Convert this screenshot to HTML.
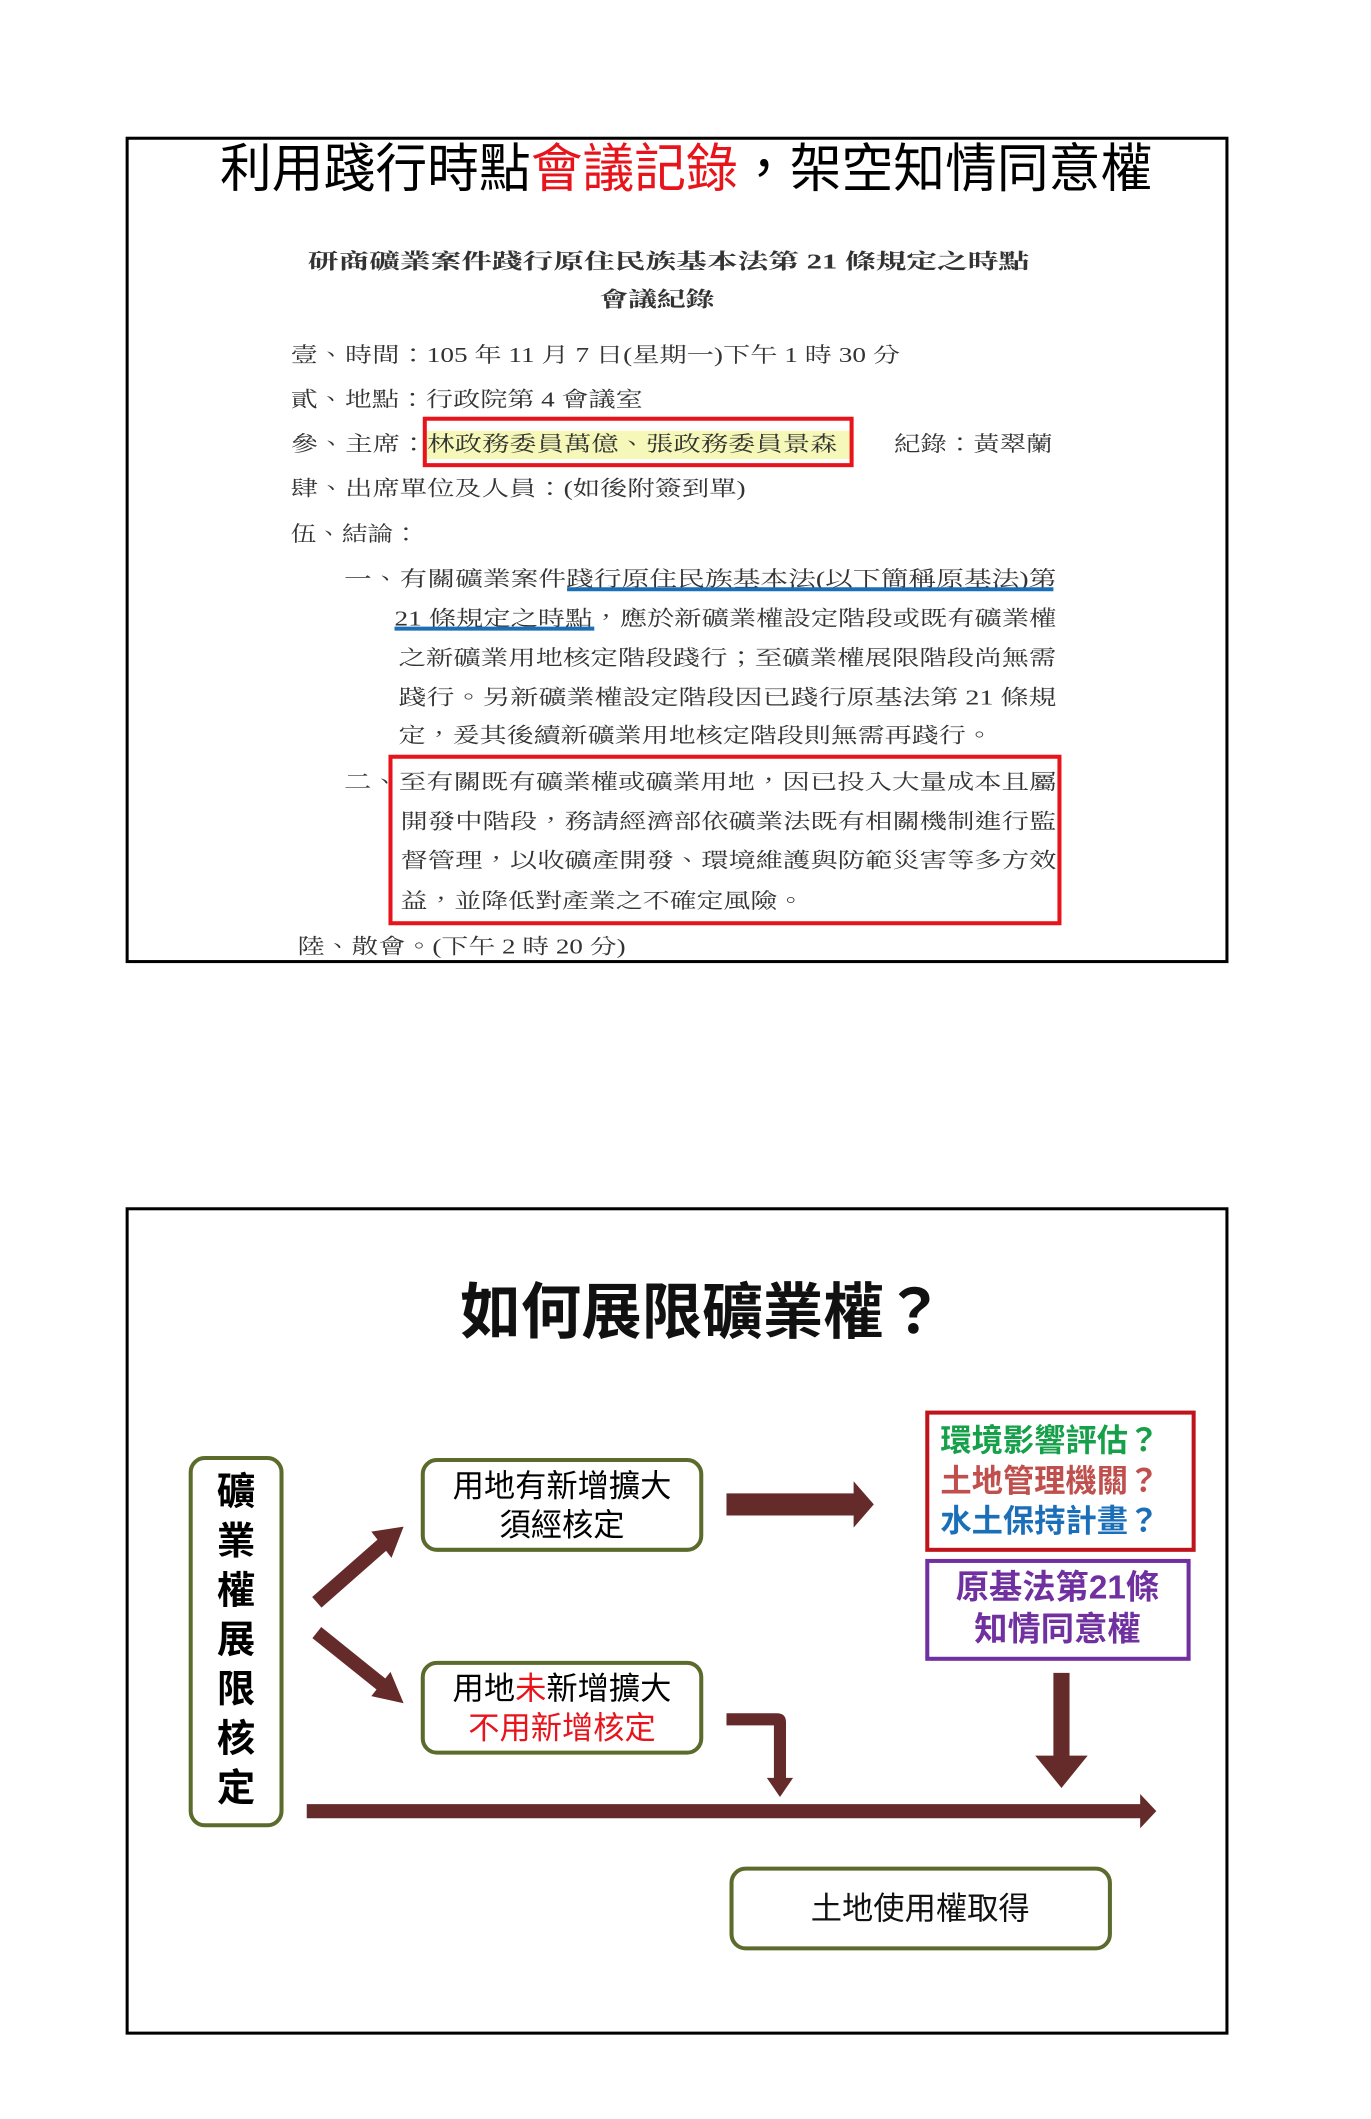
<!DOCTYPE html>
<html><head><meta charset="utf-8">
<style>
html,body{margin:0;padding:0;background:#fff;}
svg{display:block;}
.doc{font-family:"Liberation Serif","Noto Serif CJK TC","Noto Serif CJK SC",serif;font-size:21px;fill:#333;}
.sans{font-family:"Liberation Sans","Noto Sans CJK TC",sans-serif;}
</style></head>
<body>
<svg width="1371" height="2119" viewBox="0 0 1371 2119" xmlns="http://www.w3.org/2000/svg">
<rect x="0" y="0" width="1371" height="2119" fill="#fff"/>
<g transform="scale(1.009)">
<!-- Top panel -->
<rect x="126" y="137" width="1090" height="816" fill="none" stroke="#000" stroke-width="3"/>
<text class="sans" x="218" y="185" font-size="52" textLength="924" lengthAdjust="spacingAndGlyphs" fill="#000">利用踐行時點<tspan fill="#e8141c">會議記錄</tspan>，架空知情同意權</text>

<rect x="421" y="427" width="422" height="28" fill="#f3f6a8" opacity="0.8"/>
<g class="doc">
<text x="305" y="266" font-weight="bold" textLength="715" lengthAdjust="spacingAndGlyphs">研商礦業案件踐行原住民族基本法第 21 條規定之時點</text>
<text x="594" y="304" font-weight="bold" textLength="114" lengthAdjust="spacingAndGlyphs">會議紀錄</text>
<text x="288" y="359" textLength="604" lengthAdjust="spacingAndGlyphs">壹、時間：105 年 11 月 7 日(星期一)下午 1 時 30 分</text>
<text x="288" y="403" textLength="349" lengthAdjust="spacingAndGlyphs">貳、地點：行政院第 4 會議室</text>
<text x="288" y="447" textLength="542" lengthAdjust="spacingAndGlyphs">參、主席：林政務委員萬億、張政務委員景森</text>
<text x="886" y="447" textLength="157" lengthAdjust="spacingAndGlyphs">紀錄：黃翠蘭</text>
<text x="288" y="491" textLength="451" lengthAdjust="spacingAndGlyphs">肆、出席單位及人員：(如後附簽到單)</text>
<text x="288" y="536" textLength="127" lengthAdjust="spacingAndGlyphs">伍、結論：</text>
<text x="341" y="581" textLength="706" lengthAdjust="spacingAndGlyphs">一、有關礦業案件踐行原住民族基本法(以下簡稱原基法)第</text>
<text x="391" y="620" textLength="656" lengthAdjust="spacingAndGlyphs">21 條規定之時點，應於新礦業權設定階段或既有礦業權</text>
<text x="395" y="659" textLength="652" lengthAdjust="spacingAndGlyphs">之新礦業用地核定階段踐行；至礦業權展限階段尚無需</text>
<text x="395" y="698" textLength="652" lengthAdjust="spacingAndGlyphs">踐行。另新礦業權設定階段因已踐行原基法第 21 條規</text>
<text x="395" y="736" textLength="589" lengthAdjust="spacingAndGlyphs">定，爰其後續新礦業用地核定階段則無需再踐行。</text>
<text x="341" y="782" textLength="706" lengthAdjust="spacingAndGlyphs">二、至有關既有礦業權或礦業用地，因已投入大量成本且屬</text>
<text x="397" y="821" textLength="650" lengthAdjust="spacingAndGlyphs">開發中階段，務請經濟部依礦業法既有相關機制進行監</text>
<text x="397" y="860" textLength="650" lengthAdjust="spacingAndGlyphs">督管理，以收礦產開發、環境維護與防範災害等多方效</text>
<text x="397" y="900" textLength="400" lengthAdjust="spacingAndGlyphs">益，並降低對產業之不確定風險。</text>
<text x="295" y="945" textLength="325" lengthAdjust="spacingAndGlyphs">陸、散會。(下午 2 時 20 分)</text>
</g>
<line x1="562" y1="584" x2="1044" y2="584" stroke="#1a6fb8" stroke-width="4"/>
<line x1="391" y1="623" x2="589" y2="623" stroke="#1a6fb8" stroke-width="4"/>
<rect x="421" y="415" width="423" height="46" fill="none" stroke="#e8141c" stroke-width="4"/>
<rect x="387" y="750" width="663" height="165" fill="none" stroke="#e8141c" stroke-width="4"/>

<!-- Bottom panel -->
<rect x="126" y="1198" width="1090" height="817" fill="none" stroke="#000" stroke-width="3"/>
<text class="sans" x="696" y="1321" font-size="60" font-weight="bold" text-anchor="middle" fill="#111">如何展限礦業權？</text>

<rect x="189" y="1445" width="90" height="364" rx="14" fill="#fff" stroke="#5b6b2c" stroke-width="4"/>
<g class="sans" font-size="38" fill="#000" text-anchor="middle" font-weight="bold">
<text x="234" y="1491">礦</text><text x="234" y="1540">業</text><text x="234" y="1589">權</text>
<text x="234" y="1638">展</text><text x="234" y="1687">限</text><text x="234" y="1736">核</text><text x="234" y="1785">定</text>
</g>

<rect x="419" y="1447" width="276" height="89" rx="14" fill="#fff" stroke="#5b6b2c" stroke-width="4"/>
<g class="sans" font-size="31" text-anchor="middle" fill="#000">
<text x="557" y="1483">用地有新增擴大</text>
<text x="557" y="1522">須經核定</text>
</g>
<rect x="419" y="1648" width="276" height="89" rx="14" fill="#fff" stroke="#5b6b2c" stroke-width="4"/>
<g class="sans" font-size="31" text-anchor="middle" fill="#000">
<text x="557" y="1684">用地<tspan fill="#e8141c">未</tspan>新增擴大</text>
<text x="557" y="1723" fill="#e8141c">不用新增核定</text>
</g>

<rect x="919" y="1400" width="264" height="136" fill="#fff" stroke="#c0141c" stroke-width="4"/>
<g class="sans" font-size="31" font-weight="bold">
<text x="932" y="1438" fill="#17a04a">環境影響評估？</text>
<text x="932" y="1478" fill="#c0504d">土地管理機關？</text>
<text x="932" y="1518" fill="#1a6fb8">水土保持計畫？</text>
</g>
<rect x="919" y="1547" width="259" height="97" fill="#fff" stroke="#7030a0" stroke-width="4"/>
<g class="sans" font-size="33" font-weight="bold" fill="#7030a0" text-anchor="middle">
<text x="1048" y="1584">原基法第21條</text>
<text x="1048" y="1626">知情同意權</text>
</g>

<rect x="725" y="1852" width="375" height="79" rx="14" fill="#fff" stroke="#5b6b2c" stroke-width="4"/>
<text class="sans" x="912" y="1902" font-size="31" text-anchor="middle" fill="#111">土地使用權取得</text>

<g fill="#652a2a">
<polygon points="304,1788 1130,1788 1130,1778 1146,1795 1130,1812 1130,1802 304,1802"/>
<polygon points="720,1480 846,1480 846,1468 866,1491 846,1514 846,1502 720,1502"/>
<polygon points="1044,1658 1060,1658 1060,1740 1078,1740 1052,1772 1026,1740 1044,1740"/>
<path d="M720,1698 L770,1698 Q779,1698 779,1707 L779,1762 L786,1762 L773,1781 L760,1762 L767,1762 L767,1710 L720,1710 Z"/>
</g>
<g stroke="#652a2a" stroke-width="14" fill="none">
<line x1="314" y1="1588" x2="380" y2="1530"/>
<line x1="314" y1="1618" x2="380" y2="1671"/>
</g>
<g fill="#652a2a">
<polygon points="400,1513 368,1518 388,1544"/>
<polygon points="400,1688 387,1657 368,1681"/>
</g>
</g>
</svg>
</body></html>
